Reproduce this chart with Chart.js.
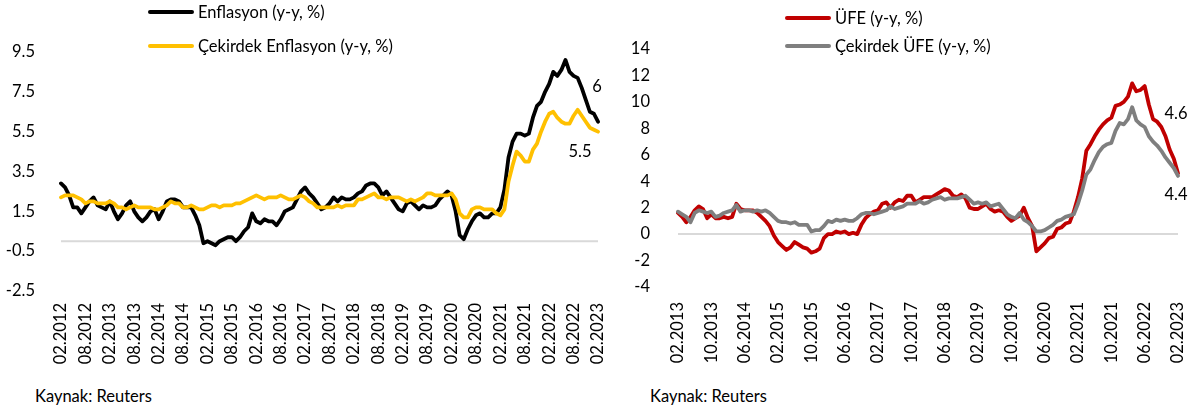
<!DOCTYPE html>
<html>
<head>
<meta charset="utf-8">
<script src="https://cdn.jsdelivr.net/npm/chart.js@4.4.1/dist/chart.umd.min.js"></script>
<style>
  html, body { margin: 0; padding: 0; background: #fff; }
  body { width: 1197px; height: 416px; position: relative; overflow: hidden; font-family: Lato, "Open Sans", sans-serif; color: #000; }
  .panel { position: absolute; top: 0; height: 370px; }
  .legend { position: absolute; font-size: 16.5px; }
  .legend .row { position: absolute; white-space: nowrap; display: flex; align-items: center; }
  .legend .swatch { width: 46px; height: 4px; border-radius: 2px; margin-right: 4px; }
  .source { position: absolute; top: 386px; font-size: 16.5px; }
</style>
</head>
<body>
<div class="panel" id="leftPanel" style="left:0; width:620px;"><canvas id="leftChart"></canvas></div>
<div class="panel" id="rightPanel" style="left:600px; width:597px;"><canvas id="rightChart"></canvas></div>
<div class="legend" id="leftLegend" style="left:148px; top:0;"></div>
<div class="legend" id="rightLegend" style="left:785px; top:0;"></div>
<div class="source" style="left:35px;">Kaynak: Reuters</div>
<div class="source" style="left:650px;">Kaynak: Reuters</div>

<script>
// ---- Left chart: CPI, monthly 02.2012 - 02.2023 ----
const cpiStart = [2012, 2];
const cpiCount = 133;
const cpiTickLabels = ['02.2012', '08.2012', '02.2013', '08.2013', '02.2014', '08.2014', '02.2015', '08.2015',
  '02.2016', '08.2016', '02.2017', '08.2017', '02.2018', '08.2018', '02.2019', '08.2019', '02.2020', '08.2020',
  '02.2021', '08.2021', '02.2022', '08.2022', '02.2023'];
const cpiYTicks = [-2.5, -0.5, 1.5, 3.5, 5.5, 7.5, 9.5];

const enflasyon = [
  2.9, 2.7, 2.3, 1.7, 1.7, 1.4, 1.7, 2.0, 2.2, 1.8, 1.7,
  1.6, 2.0, 1.5, 1.1, 1.4, 1.8, 2.0, 1.5, 1.2, 1.0, 1.2, 1.5,
  1.6, 1.1, 1.5, 2.0, 2.1, 2.1, 2.0, 1.7, 1.7, 1.7, 1.3, 0.8,
  -0.1, 0.0, -0.1, -0.2, 0.0, 0.1, 0.2, 0.2, 0.0, 0.2, 0.5, 0.7,
  1.4, 1.0, 0.9, 1.1, 1.0, 1.0, 0.8, 1.1, 1.5, 1.6, 1.7, 2.1,
  2.5, 2.7, 2.4, 2.2, 1.9, 1.6, 1.7, 1.9, 2.2, 2.0, 2.2, 2.1,
  2.1, 2.2, 2.4, 2.5, 2.8, 2.9, 2.9, 2.7, 2.3, 2.5, 2.2, 1.9,
  1.6, 1.5, 1.9, 2.0, 1.8, 1.6, 1.8, 1.7, 1.7, 1.8, 2.1, 2.3,
  2.5, 2.3, 1.5, 0.3, 0.1, 0.6, 1.0, 1.3, 1.4, 1.2, 1.2, 1.4,
  1.4, 1.7, 2.6, 4.2, 5.0, 5.4, 5.4, 5.3, 5.4, 6.2, 6.8, 7.0,
  7.5, 7.9, 8.5, 8.3, 8.6, 9.1, 8.5, 8.3, 8.2, 7.7, 7.1, 6.5,
  6.4, 6.0
];
const cekirdekEnflasyon = [
  2.2, 2.3, 2.3, 2.3, 2.2, 2.1, 1.9, 2.0, 2.0, 1.9, 1.9,
  1.9, 2.0, 1.9, 1.7, 1.7, 1.6, 1.7, 1.8, 1.7, 1.7, 1.7, 1.7,
  1.6, 1.6, 1.7, 1.8, 2.0, 1.9, 1.9, 1.7, 1.7, 1.8, 1.7, 1.6,
  1.6, 1.7, 1.8, 1.8, 1.7, 1.8, 1.8, 1.8, 1.9, 1.9, 2.0, 2.1,
  2.2, 2.3, 2.2, 2.1, 2.2, 2.2, 2.2, 2.3, 2.2, 2.1, 2.1, 2.2,
  2.3, 2.2, 2.0, 1.9, 1.7, 1.7, 1.7, 1.7, 1.7, 1.8, 1.7, 1.8,
  1.8, 1.8, 2.1, 2.1, 2.2, 2.3, 2.4, 2.2, 2.2, 2.1, 2.2, 2.2,
  2.2, 2.1, 2.0, 2.1, 2.0, 2.1, 2.2, 2.4, 2.4, 2.3, 2.3, 2.3,
  2.3, 2.4, 2.1, 1.4, 1.2, 1.2, 1.6, 1.7, 1.7, 1.6, 1.6, 1.6,
  1.4, 1.3, 1.6, 3.0, 3.8, 4.5, 4.3, 4.0, 4.0, 4.6, 4.9, 5.5,
  6.0, 6.4, 6.5, 6.2, 6.0, 5.9, 5.9, 6.3, 6.6, 6.3, 6.0, 5.7,
  5.6, 5.5
];

// ---- Right chart: PPI, monthly 02.2013 - 02.2023 ----
const ppiStart = [2013, 2];
const ppiCount = 121;
const ppiTickLabels = ['02.2013', '10.2013', '06.2014', '02.2015', '10.2015', '06.2016', '02.2017', '10.2017',
  '06.2018', '02.2019', '10.2019', '06.2020', '02.2021', '10.2021', '06.2022', '02.2023'];
const ppiYTicks = [-4, -2, 0, 2, 4, 6, 8, 10, 12, 14];

const ufe = [
  1.6, 1.3, 0.9, 1.3, 1.8, 2.1, 1.9, 1.2, 1.5, 1.2, 1.2, 1.3,
  1.2, 1.3, 2.3, 1.9, 1.8, 1.8, 1.8, 1.6, 1.3, 1.0, 0.6, -0.1,
  -0.6, -0.9, -1.2, -1.0, -0.6, -0.8, -1.0, -1.1, -1.4, -1.3, -1.1, -0.3,
  0.0, 0.0, 0.2, 0.1, 0.2, 0.0, 0.1, 0.0, 0.7, 1.2, 1.5, 1.7,
  1.8, 2.3, 2.4, 2.0, 2.4, 2.6, 2.5, 2.9, 2.9, 2.4, 2.6, 2.8,
  2.8, 2.8, 3.0, 3.2, 3.4, 3.3, 2.9, 2.8, 3.0, 2.7, 2.0, 1.9,
  1.9, 2.1, 2.3, 1.9, 1.7, 1.8, 1.7, 1.3, 1.0, 1.2, 1.4, 2.0,
  1.2, 0.6, -1.3, -1.0, -0.7, -0.3, -0.2, 0.4, 0.5, 0.8, 0.9, 1.7,
  2.8, 4.2, 6.3, 6.8, 7.4, 7.9, 8.3, 8.6, 8.8, 9.7, 9.8, 10.0,
  10.4, 11.4, 10.8, 10.9, 11.2, 9.8, 8.7, 8.5, 8.1, 7.4, 6.4, 5.7,
  4.6
];
const cekirdekUfe = [
  1.7, 1.5, 1.3, 0.9, 1.6, 1.8, 1.7, 1.6, 1.7, 1.3, 1.4, 1.6,
  1.7, 1.8, 2.2, 1.7, 1.8, 1.8, 1.7, 1.8, 1.7, 1.8, 1.6, 1.3,
  1.0, 0.9, 0.9, 0.8, 0.9, 0.7, 0.7, 0.7, 0.2, 0.3, 0.3, 0.6,
  1.0, 0.9, 1.1, 1.0, 1.1, 1.0, 1.0, 1.2, 1.5, 1.6, 1.6, 1.5,
  1.6, 1.7, 1.8, 2.1, 1.9, 2.0, 2.1, 2.3, 2.3, 2.3, 2.5, 2.3,
  2.4, 2.6, 2.7, 2.8, 2.6, 2.7, 2.7, 2.7, 2.8, 2.9, 2.6, 2.3,
  2.4, 2.3, 2.4, 2.1, 2.2, 2.3, 1.9, 1.5, 1.3, 1.2, 1.6, 1.1,
  0.9, 0.6, 0.2, 0.2, 0.3, 0.5, 0.7, 1.0, 1.1, 1.3, 1.4, 1.5,
  2.3, 3.3, 4.5, 4.9, 5.6, 6.2, 6.6, 6.8, 6.9, 7.8, 8.4, 8.3,
  8.7, 9.6, 8.6, 8.3, 8.1, 7.4, 7.0, 6.7, 6.3, 5.8, 5.4, 5.0,
  4.4
];

/**
 * Month categories "MM.YYYY" starting at a given year/month
 */
function monthLabels(start, count) {
  const out = [];
  let [y, m] = start;
  for (let i = 0; i < count; i++) {
    out.push(String(m).padStart(2, '0') + '.' + y);
    m++;
    if (m > 12) { m = 1; y++; }
  }
  return out;
}

const FONT = { family: 'Lato, "Open Sans", sans-serif', size: 16.5 };

// zero line + last value labels
const decorPlugin = {
  id: 'decor',
  beforeDatasetsDraw(chart) {
    const { ctx, chartArea, scales } = chart;
    const y0 = scales.y.getPixelForValue(0);
    ctx.save();
    ctx.strokeStyle = '#d9d9d9';
    ctx.lineWidth = 2;
    ctx.beginPath();
    ctx.moveTo(chartArea.left, y0);
    ctx.lineTo(chartArea.right, y0);
    ctx.stroke();
    ctx.restore();
  },
  afterDatasetsDraw(chart) {
    const { ctx } = chart;
    ctx.save();
    ctx.font = `${FONT.size}px ${FONT.family}`;
    ctx.fillStyle = '#000';
    ctx.textAlign = 'center';
    ctx.textBaseline = 'middle';
    chart.data.datasets.forEach((ds, i) => {
      if (!ds.endLabel) return;
      const pts = chart.getDatasetMeta(i).data;
      const p = pts[pts.length - 1];
      ctx.fillText(String(ds.data[ds.data.length - 1]), p.x + ds.endLabel.dx, p.y + ds.endLabel.dy);
    });
    ctx.restore();
  }
};

function buildLegend(el, datasets, rowTops) {
  datasets.forEach((ds, i) => {
    const row = document.createElement('div');
    row.className = 'row';
    row.style.top = rowTops[i] + 'px';
    row.innerHTML = `<span class="swatch" style="background:${ds.borderColor}"></span><span>${ds.label}</span>`;
    el.appendChild(row);
  });
}

function makeChart(canvasId, cfg) {
  const canvas = document.getElementById(canvasId);
  canvas.width = cfg.width;
  canvas.height = 370;
  canvas.style.width = cfg.width + 'px';
  canvas.style.height = '370px';
  return new Chart(canvas, {
    type: 'line',
    data: { labels: cfg.labels, datasets: cfg.datasets },
    options: {
      responsive: false,
      animation: false,
      events: [],
      layout: { padding: { top: cfg.top, right: cfg.right, left: 0, bottom: 0 } },
      elements: { point: { radius: 0 }, line: { borderWidth: 3.8, tension: 0, borderCapStyle: 'round', borderJoinStyle: 'round' } },
      plugins: { legend: { display: false }, tooltip: { enabled: false } },
      scales: {
        x: {
          type: 'category',
          offset: false,
          grid: { display: false, drawTicks: false },
          border: { display: false },
          afterFit(scale) {
            scale.height = 370 - cfg.bottom;
            scale.paddingLeft = 0;
            scale.paddingRight = 0;
          },
          ticks: {
            autoSkip: false,
            minRotation: 90,
            maxRotation: 90,
            padding: cfg.xPad,
            color: '#000',
            font: FONT,
            callback(value) {
              const lab = this.getLabelForValue(value);
              return cfg.tickLabels.includes(lab) ? lab : '';
            }
          }
        },
        y: {
          min: cfg.yTicks[0],
          max: cfg.yTicks[cfg.yTicks.length - 1],
          grid: { display: false, drawTicks: false },
          border: { display: false },
          afterFit(scale) { scale.width = cfg.yWidth; },
          afterBuildTicks(scale) { scale.ticks = cfg.yTicks.map(v => ({ value: v })); },
          ticks: { padding: cfg.yPad, color: '#000', font: FONT }
        }
      }
    },
    plugins: [decorPlugin]
  });
}

// core series are drawn on top of the headline series (lower order = drawn later)
const leftDatasets = [
  { label: 'Enflasyon (y-y, %)', data: enflasyon, borderColor: '#000000', order: 1, endLabel: { dx: -1, dy: -35 } },
  { label: 'Çekirdek Enflasyon (y-y, %)', data: cekirdekEnflasyon, borderColor: '#FFC000', order: 0, endLabel: { dx: -18, dy: 20 } }
];
const rightDatasets = [
  { label: 'ÜFE (y-y, %)', data: ufe, borderColor: '#C00000', order: 1, endLabel: { dx: -2, dy: -60 } },
  { label: 'Çekirdek ÜFE (y-y, %)', data: cekirdekUfe, borderColor: '#7F7F7F', order: 0, endLabel: { dx: -2, dy: 19 } }
];

makeChart('leftChart', {
  width: 620, labels: monthLabels(cpiStart, cpiCount), datasets: leftDatasets,
  tickLabels: cpiTickLabels, yTicks: cpiYTicks,
  top: 52, right: 22, bottom: 291, yWidth: 61, yPad: 26, xPad: 12
});
makeChart('rightChart', {
  width: 597, labels: monthLabels(ppiStart, ppiCount), datasets: rightDatasets,
  tickLabels: ppiTickLabels, yTicks: ppiYTicks,
  top: 49, right: 19, bottom: 287, yWidth: 78, yPad: 28, xPad: 15
});

buildLegend(document.getElementById('leftLegend'), leftDatasets, [2, 36]);
buildLegend(document.getElementById('rightLegend'), rightDatasets, [8, 36]);
</script>
</body>
</html>
